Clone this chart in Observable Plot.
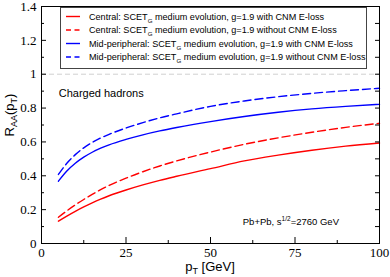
<!DOCTYPE html>
<html><head><meta charset="utf-8">
<script src="https://cdn.jsdelivr.net/npm/d3@7"></script>
<script src="https://cdn.jsdelivr.net/npm/@observablehq/plot@0.6"></script>
<style>body{margin:0;background:#fff} #chart{width:390px;height:277px}</style>
</head><body><div id="chart"></div>
<script>
const pT = [5, 7.5, 10, 12.5, 15, 17.5, 20, 25, 30, 35, 40, 50, 60, 70, 80, 90, 100];
const centralWith    = [0.132, 0.162, 0.190, 0.216, 0.240, 0.262, 0.282, 0.316, 0.346, 0.373, 0.397, 0.442, 0.488, 0.522, 0.551, 0.575, 0.594];
const centralWithout = [0.155, 0.193, 0.228, 0.260, 0.290, 0.318, 0.343, 0.386, 0.424, 0.458, 0.488, 0.540, 0.586, 0.624, 0.657, 0.686, 0.710];
const midWith        = [0.368, 0.428, 0.474, 0.510, 0.539, 0.563, 0.583, 0.615, 0.642, 0.665, 0.685, 0.720, 0.750, 0.775, 0.795, 0.810, 0.822];
const midWithout     = [0.408, 0.474, 0.525, 0.565, 0.597, 0.623, 0.645, 0.682, 0.714, 0.742, 0.766, 0.810, 0.842, 0.867, 0.887, 0.903, 0.917];

const seriesNames = [
  ["Central: SCET", "G", " medium evolution, g=1.9 with CNM E-loss"],
  ["Central: SCET", "G", " medium evolution, g=1.9 without CNM E-loss"],
  ["Mid-peripheral: SCET", "G", " medium evolution, g=1.9 with CNM E-loss"],
  ["Mid-peripheral: SCET", "G", " medium evolution, g=1.9 without CNM E-loss"]
];
const seriesValues = [centralWith, centralWithout, midWith, midWithout];
const seriesColors = ["#ff0000", "#ff0000", "#0000ff", "#0000ff"];
const seriesDash = [null, "8,4", null, "8,4"];

const xTicks = [0, 25, 50, 75, 100];
const xMinor = [12.5, 37.5, 62.5, 87.5];
const yTicks = [0, 0.2, 0.4, 0.6, 0.8, 1, 1.2, 1.4];
const yTickLabels = ["0", "0.2", "0.4", "0.6", "0.8", "1", "1.2", "1.4"];
const yMinor = [0.1, 0.3, 0.5, 0.7, 0.9, 1.1, 1.3];
const yAll = [0.1, 0.2, 0.3, 0.4, 0.5, 0.6, 0.7, 0.8, 0.9, 1.0, 1.1, 1.2, 1.3];

const annotation1 = "Charged hadrons";
const yLabel = ["R", "AA", "(p", "T", ")"];
const xLabel = ["p", "T", " [GeV]"];

const tables = seriesValues.map(vals => pT.map((x, i) => ({pT: x, raa: vals[i]})));
const serif = "Liberation Serif, Times New Roman, serif";
const sans = "Liberation Sans, Arial, sans-serif";

const plot = Plot.plot({
  width: 390, height: 277,
  marginLeft: 41, marginRight: 11, marginTop: 6, marginBottom: 34,
  style: {fontFamily: serif, fontSize: "13px", color: "black", background: "white"},
  x: {domain: [0, 100], label: null},
  y: {domain: [0, 1.4], label: null},
  marks: [
    Plot.ruleY([1], {stroke: "#d0d0d0", strokeDasharray: "5,3"}),
    ...tables.map((t, i) => Plot.line(t, {x: "pT", y: "raa", stroke: seriesColors[i], strokeWidth: 1.4, strokeDasharray: seriesDash[i], curve: "monotone-x"})),
    Plot.axisY({ticks: yTicks, tickSize: -5, tickPadding: 10, tickFormat: d => yTickLabels[yTicks.indexOf(d)], fontSize: 13, fontFamily: serif, label: null}),
    Plot.axisY({ticks: yMinor, tickSize: -3, tickFormat: () => "", label: null}),
    Plot.axisY({anchor: "right", ticks: yAll, tickSize: -5, tickFormat: () => "", label: null}),
    Plot.axisX({ticks: xTicks, tickSize: -6, tickPadding: 10, tickFormat: d => String(d), fontSize: 13, fontFamily: serif, label: null}),
    Plot.axisX({ticks: xMinor, tickSize: -3, tickFormat: () => "", label: null}),
    Plot.axisX({anchor: "top", ticks: xMinor.concat([25, 50, 75]), tickSize: -4, tickFormat: () => "", label: null}),
    Plot.frame({stroke: "black", strokeWidth: 1}),
    Plot.text([annotation1], {x: 5.1, y: 0.886, text: d => d, textAnchor: "start", fontFamily: sans, fontSize: 11})
  ]
});
document.getElementById("chart").appendChild(plot);

const svg = d3.select(plot);
const xs = plot.scale("x"), ys = plot.scale("y");

// Pb+Pb annotation
const pb = svg.append("text").attr("x", xs.apply(59.7)).attr("y", ys.apply(0.126) + 3.5)
  .attr("text-anchor", "start").attr("font-family", sans).attr("font-size", 9.5).attr("fill", "black");
pb.append("tspan").text("Pb+Pb, s");
pb.append("tspan").attr("dy", -4).attr("font-size", 6.5).text("1/2");
pb.append("tspan").attr("dy", 4).text("=2760 GeV");

// Axis labels
const yl = svg.append("text").attr("transform", "translate(14,115) rotate(-90)")
  .attr("text-anchor", "middle").attr("font-family", sans).attr("font-size", 13).attr("fill", "black");
yl.append("tspan").text(yLabel[0]);
yl.append("tspan").attr("dy", 3).attr("font-size", 9).text(yLabel[1]);
yl.append("tspan").attr("dy", -3).text(yLabel[2]);
yl.append("tspan").attr("dy", 3).attr("font-size", 9).text(yLabel[3]);
yl.append("tspan").attr("dy", -3).text(yLabel[4]);

const xl = svg.append("text").attr("x", 210).attr("y", 271)
  .attr("text-anchor", "middle").attr("font-family", sans).attr("font-size", 13).attr("fill", "black");
xl.append("tspan").text(xLabel[0]);
xl.append("tspan").attr("dy", 3).attr("font-size", 9).text(xLabel[1]);
xl.append("tspan").attr("dy", -3).text(xLabel[2]);

// Legend
const lg = svg.append("g");
lg.append("rect").attr("x", 60.5).attr("y", 7.5).attr("width", 306).attr("height", 61)
  .attr("fill", "white").attr("stroke", "#444").attr("stroke-width", 1);
const rowY = [16.5, 30, 43.5, 57];
seriesNames.forEach((parts, i) => {
  lg.append("line").attr("x1", 66).attr("x2", 80).attr("y1", rowY[i]).attr("y2", rowY[i])
    .attr("stroke", seriesColors[i]).attr("stroke-width", 1.4).attr("stroke-dasharray", seriesDash[i] ? "5,3.5" : null);
  const t = lg.append("text").attr("x", 89).attr("y", rowY[i] + 3.3).attr("text-anchor", "start")
    .attr("font-family", sans).attr("font-size", 9.1).attr("fill", "black");
  t.append("tspan").text(parts[0]);
  t.append("tspan").attr("dy", 3).attr("font-size", 6.2).text(parts[1]);
  t.append("tspan").attr("dy", -3).text(parts[2]);
});
</script>
</body></html>
